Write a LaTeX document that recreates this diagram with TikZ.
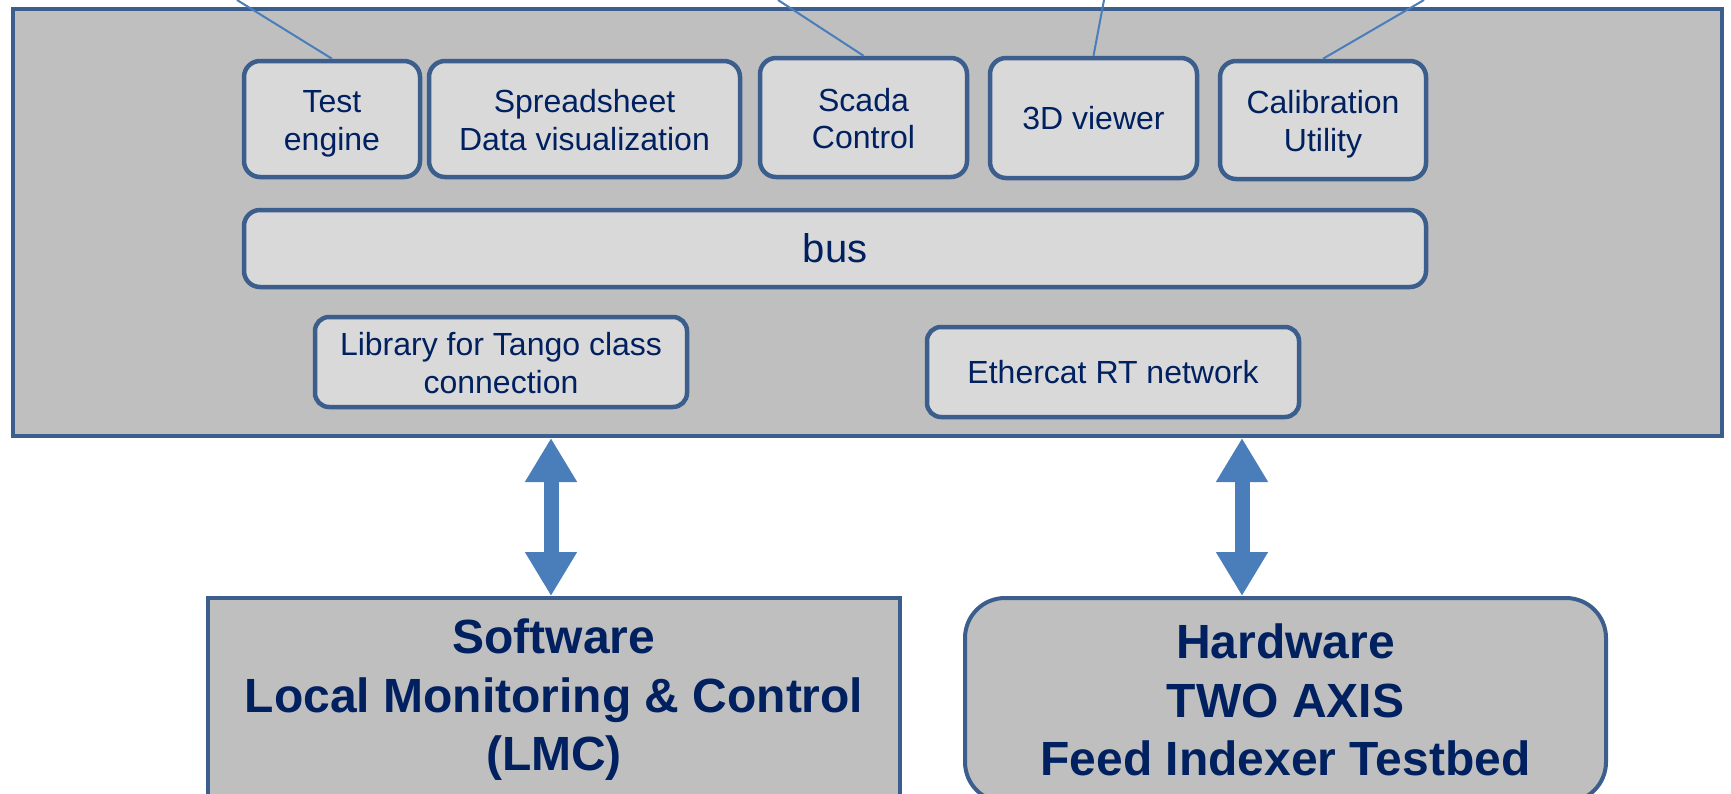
\documentclass[tikz,border=0pt]{standalone}
\usepackage{fontspec}
\setmainfont{Liberation Sans}
\usetikzlibrary{arrows.meta}
\definecolor{boxline}{HTML}{3B5E8D}
\definecolor{panelgray}{HTML}{BFBFBF}
\definecolor{appgray}{HTML}{D9D9D9}
\definecolor{navytext}{HTML}{002060}
\definecolor{linkblue}{HTML}{4A7EBB}
\newcommand{\topstrut}{\rule{0pt}{32pt}}
\newcommand{\botstrut}{\rule[-7pt]{0pt}{7pt}}

\begin{document}
\begin{tikzpicture}[x=1pt, y=-1pt,
  panel/.style={draw=boxline, line width=4pt, fill=panelgray, inner sep=0pt},
  appbox/.style={draw=boxline, line width=4.5pt, fill=appgray, rounded corners=16pt, text=navytext, align=center, inner sep=0pt, font=\fontsize{32}{37.5}\selectfont},
  sysbox/.style={draw=boxline, line width=4pt, fill=panelgray, text=navytext, align=center, inner sep=0pt, font=\bfseries\fontsize{48}{58.5}\selectfont},
  feed/.style={draw=linkblue, line width=2pt},
  bigarrow/.style={draw=linkblue, line width=15pt, {Triangle[length=44pt,width=49pt]}-{Triangle[length=44pt,width=49pt]}}]
\useasboundingbox (0,0) rectangle (1731,793);
\clip (0,0) rectangle (1731,793);
\node[panel, minimum width=1709pt, minimum height=427pt] (pc) at (867.5,222.5) {};
\node[appbox, minimum width=176pt, minimum height=116pt] (te) at (332,119) {\topstrut Test\\engine\botstrut};
\node[appbox, minimum width=311pt, minimum height=116pt] (ss) at (584.5,119) {\topstrut Spreadsheet\\Data visualization\botstrut};
\node[appbox, minimum width=207pt, minimum height=119pt] (sc) at (863.5,117.5) {\topstrut Scada\\Control\botstrut};
\node[appbox, minimum width=207pt, minimum height=120pt] (vw) at (1093.5,118) {3D viewer};
\node[appbox, minimum width=206pt, minimum height=118pt] (cal) at (1323,120) {\topstrut Calibration\\Utility\botstrut};
\node[appbox, minimum width=1182pt, minimum height=77pt, font=\fontsize{40}{46}\selectfont] (bus) at (835,248.5) {bus};
\node[appbox, minimum width=372pt, minimum height=90pt, rounded corners=14pt] (lib) at (501,362) {\topstrut Library for Tango class\\connection\botstrut};
\node[appbox, minimum width=372pt, minimum height=90pt, rounded corners=14pt] (eth) at (1113,372) {Ethercat RT network};
\node[sysbox, minimum width=692pt, minimum height=204pt, anchor=north] (lmc) at (554,596) {Software\\Local Monitoring \& Control\\(LMC)};
\node[sysbox, minimum width=641pt, minimum height=204pt, rounded corners=40pt, anchor=north] (hw) at (1285.5,596) {Hardware\\TWO AXIS\\Feed Indexer Testbed};
\coordinate (te-up) at (237,0);
\coordinate (sc-up) at (778,0);
\coordinate (vw-up) at (1104,0);
\coordinate (cal-up) at (1424,0);
\coordinate (lmc-x) at (551,0);
\coordinate (hw-x) at (1242,0);
\draw[feed] (te.north) -- (te-up);
\draw[feed] (sc.north) -- (sc-up);
\draw[feed] (vw.north) -- (vw-up);
\draw[feed] (cal.north) -- (cal-up);
\draw[bigarrow] (pc.south -| lmc-x) -- (lmc.north -| lmc-x);
\draw[bigarrow] (pc.south -| hw-x) -- (hw.north -| hw-x);
\end{tikzpicture}
\end{document}
